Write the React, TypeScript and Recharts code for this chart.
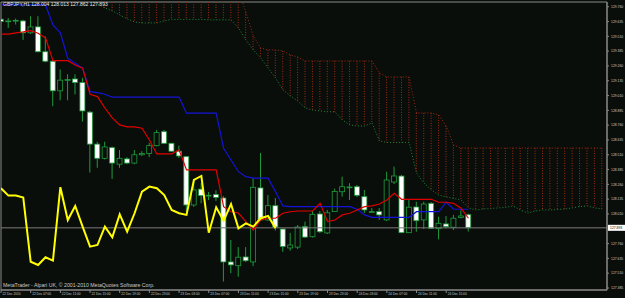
import React from "react";
import {
  ComposedChart,
  Bar,
  Line,
  XAxis,
  YAxis,
  ReferenceLine,
  ReferenceArea,
} from "recharts";

const W = 625;
const H = 298;
const BG = "#0a0e0a";
const FRAME = "#8a8a8a";
const GREEN = "#1f9b3c";
const FONT = "'Liberation Sans', Arial, sans-serif";
const Y_MIN = 127.368;
const Y_MAX = 129.8;

const title = "GBPJPY,H1  128.004 128.013 127.862 127.893";
const lastPrice = 127.893;

// H1 bars, first one is 22 Dec 03:00
const openPrices = [
  129.655, 129.635, 129.64, 129.64, 129.54, 129.59, 129.38, 129.3, 129.05, 129.14,
  129.15, 129.12, 128.87, 128.6, 128.48, 128.57, 128.43, 128.475, 128.44, 128.51,
  128.52, 128.587, 128.705, 128.607, 128.54, 128.494, 128.086, 128.22, 128.165, 128.175,
  128.145, 127.605, 127.573, 127.647, 127.605, 128.23, 127.96, 128.08, 127.883, 127.723,
  127.73, 127.903, 127.818, 128.01, 127.85, 128.03, 128.198, 128.235, 128.24, 128.156,
  128.025, 128.03, 127.96, 128.28, 128.33, 127.852, 128.069, 127.96, 128.1, 127.886,
  127.926, 127.898, 127.98, 128.004,
];
const highPrices = [
  129.665, 129.665, 129.66, 129.65, 129.68, 129.68, 129.51, 129.31, 129.23, 129.19,
  129.19, 129.16, 128.88, 128.62, 128.62, 128.58, 128.55, 128.49, 128.55, 128.54,
  128.61, 128.72, 128.72, 128.61, 128.587, 128.5, 128.3, 128.27, 128.196, 128.21,
  128.16, 127.79, 127.73, 127.73, 128.31, 128.525, 128.17, 128.145, 127.885, 127.85,
  127.917, 127.945, 128.035, 128.035, 128.044, 128.224, 128.325, 128.27, 128.255, 128.213,
  128.06, 128.06, 128.367, 128.41, 128.34, 128.128, 128.114, 128.114, 128.11, 127.987,
  127.993, 128.002, 128.04, 128.013,
];
const lowPrices = [
  129.62, 129.58, 129.61, 129.48, 129.53, 129.375, 129.29, 128.92, 128.97, 128.97,
  129.02, 128.79, 128.36, 128.4, 128.47, 128.306, 128.4, 128.43, 128.43, 128.5,
  128.49, 128.58, 128.6, 128.535, 128.483, 128.03, 128.07, 128.1, 128.128, 128.12,
  127.44, 127.51, 127.48, 127.605, 127.57, 127.95, 127.95, 127.87, 127.69, 127.7,
  127.714, 127.807, 127.81, 127.85, 127.841, 128.027, 128.156, 128.128, 128.153, 128.018,
  128.02, 127.96, 127.95, 128.263, 127.85, 127.85, 127.86, 127.883, 127.883, 127.796,
  127.889, 127.875, 127.974, 127.862,
];
const closePrices = [
  129.635, 129.64, 129.645, 129.54, 129.59, 129.38, 129.3, 129.05, 129.14, 129.145,
  129.12, 128.88, 128.6, 128.48, 128.576, 128.44, 128.48, 128.44, 128.51, 128.52,
  128.587, 128.697, 128.607, 128.54, 128.5, 128.086, 128.213, 128.165, 128.168, 128.15,
  127.605, 127.58, 127.645, 127.615, 128.235, 127.96, 128.08, 127.9, 127.735, 127.748,
  127.9, 127.815, 128.007, 127.86, 128.02, 128.2, 128.24, 128.238, 128.168, 128.044,
  128.03, 128.002, 128.297, 128.331, 127.852, 128.067, 127.953, 128.094, 127.889, 127.931,
  127.903, 127.974, 127.993, 127.893,
];

const tenkan = [
  129.528, 129.528, 129.539, 129.547, 129.558, 129.536, 129.497, 129.305, 129.305, 129.305,
  129.268, 129.241, 129.021, 129.001, 128.905, 128.821, 128.762, 128.745, 128.745, 128.734,
  128.635, 128.517, 128.517, 128.517, 128.551, 128.382, 128.382, 128.382, 128.382, 128.382,
  128.072, 128.029, 128.018, 127.945, 127.875, 127.959, 127.974, 127.974, 128.016, 128.029,
  128.035, 128.035, 128.035, 128.1, 127.945, 127.959, 128.002, 128.016, 128.044, 128.072,
  128.078, 128.094, 128.128, 128.185, 128.134, 128.134, 128.134, 128.134, 128.134, 128.109,
  128.109, 128.1, 128.058, 127.974,
];
const kijun = [
  129.775, 129.775, 129.775, 129.775, 129.775, 129.775, 129.775, 129.606, 129.539, 129.325,
  129.283, 129.241, 129.043, 129.035, 129.021, 128.996, 128.996, 128.996, 128.996, 128.996,
  128.996, 128.996, 128.996, 128.996, 128.996, 128.861, 128.861, 128.861, 128.861, 128.861,
  128.565, 128.466, 128.367, 128.325, 128.312, 128.312, 128.312, 128.198, 128.078, 128.072,
  128.072, 128.072, 128.072, 128.072, 128.072, 128.072, 128.072, 128.072, 128.05, 128.002,
  127.982, 127.982, 127.982, 127.982, 127.982, 127.982, 128.029, 128.029, 128.029, 128.029,
  128.109, 128.05, 128.05, 128.05,
];
const chikou = [
  128.227, 128.165, 128.165, 128.148, 127.607, 127.579, 127.644, 127.616, 128.236, 127.959,
  128.078, 127.903, 127.734, 127.748, 127.903, 127.813, 128.007, 127.861, 128.016, 128.198,
  128.241, 128.227, 128.17, 128.044, 128.016, 128.002, 128.297, 128.331, 127.852, 128.067,
  127.953, 128.094, 127.889, 127.931, 127.903, 127.974, 127.993, 127.889,
];
// cloud runs 26 bars past the last candle
const senkouA = [
  null, null, null, null, null, null, null, null, null, null,
  null, null, 129.817, 129.784, 129.75, 129.725, 129.691, 129.657, 129.632, 129.623,
  129.623, 129.623, 129.64, 129.653, 129.653, 129.653, 129.653, 129.653, 129.649, 129.649,
  129.649, 129.649, 129.581, 129.48, 129.395, 129.328, 129.243, 129.159, 129.057, 129.007,
  128.964, 128.905, 128.888, 128.88, 128.874, 128.872, 128.804, 128.762, 128.753, 128.753,
  128.779, 128.627, 128.614, 128.614, 128.614, 128.614, 128.356, 128.272, 128.213, 128.17,
  128.154, 128.141, 128.128, 128.061, 128.044, 128.052, 128.056, 128.061, 128.065, 128.078,
  128.044, 128.018, 128.035, 128.044, 128.044, 128.048, 128.052, 128.061, 128.073, 128.078,
  128.061, 128.052,
];
const senkouB = [
  null, null, null, null, null, null, null, null, null, null,
  null, null, 129.9, 129.9, 129.9, 129.9, 129.9, 129.9, 129.9, 129.9,
  129.9, 129.9, 129.9, 129.9, 129.9, 129.9, 129.9, 129.9, 129.9, 129.9,
  129.9, 129.9, 129.9, 129.716, 129.513, 129.412, 129.395, 129.395, 129.387, 129.353,
  129.336, 129.302, 129.302, 129.302, 129.302, 129.302, 129.302, 129.302, 129.302, 129.302,
  129.302, 129.201, 129.167, 129.167, 129.167, 129.167, 128.863, 128.863, 128.863, 128.846,
  128.753, 128.593, 128.567, 128.567, 128.567, 128.567, 128.567, 128.567, 128.567, 128.567,
  128.567, 128.567, 128.567, 128.567, 128.567, 128.567, 128.567, 128.567, 128.567, 128.567,
  128.567, 128.567,
];

const priceTicks = [
  129.76, 129.635, 129.51, 129.385, 129.26, 129.135, 129.01, 128.885, 128.76, 128.635,
  128.51, 128.385, 128.26, 128.135, 128.01, 127.76, 127.635, 127.51, 127.385,
];
const timeTicks = [0, 4, 8, 12, 16, 20, 24, 28, 32, 36, 40, 44, 48, 52, 56, 60];
const timeLabels = [
  "22 Dec 2010", "22 Dec 07:00", "22 Dec 11:00", "22 Dec 15:00", "22 Dec 19:00",
  "22 Dec 23:00", "23 Dec 03:00", "23 Dec 07:00", "23 Dec 11:00", "23 Dec 15:00",
  "23 Dec 19:00", "23 Dec 23:00", "24 Dec 03:00", "24 Dec 07:00", "24 Dec 11:00",
  "24 Dec 15:00",
];

const rows = senkouA.map((a, i) => ({
  i,
  open: openPrices[i] ?? null,
  high: highPrices[i] ?? null,
  low: lowPrices[i] ?? null,
  close: closePrices[i] ?? null,
  tenkan: tenkan[i] ?? null,
  kijun: kijun[i] ?? null,
  chikou: chikou[i] ?? null,
  spanA: a,
  spanB: senkouB[i],
}));

// hatch between the two spans, cut at the top of the window
const cloudRange = (d: any) =>
  d.spanA == null || d.spanB == null
    ? null
    : [Math.min(d.spanA, d.spanB), Math.min(Math.max(d.spanA, d.spanB), Y_MAX)];

function Candle(props: any) {
  const { x, y, width, height, payload } = props;
  if (payload.open == null || !isFinite(y) || !isFinite(height)) return <g />;
  const { open, high, low, close } = payload;
  const top = Math.min(y, y + height);
  const h = Math.abs(height);
  const span = high - low || 1;
  const py = (v: number) => top + ((high - v) / span) * h;
  const cx = x + width / 2;
  const b1 = py(Math.max(open, close));
  const b2 = py(Math.min(open, close));
  return (
    <g>
      <line x1={cx} x2={cx} y1={top} y2={top + h} stroke={GREEN} strokeWidth={1} />
      <rect
        x={x}
        y={b1}
        width={width}
        height={Math.max(b2 - b1, 0.8)}
        fill={close < open ? "#ffffff" : BG}
        stroke={GREEN}
        strokeWidth={0.8}
      />
    </g>
  );
}

function Hatch(props: any) {
  const { x, y, width, height, payload } = props;
  if (payload.spanA == null || !isFinite(y) || !isFinite(height)) return <g />;
  const cx = x + width / 2;
  return (
    <line x1={cx} x2={cx} y1={y} y2={y + height} stroke="#a02a16" strokeDasharray="1 1.5" />
  );
}

function PriceTick(props: any) {
  const { x, y, payload } = props;
  return (
    <text x={x} y={y + 1.2} fill="#c8c8c8" fontSize={3.4} fontFamily={FONT}>
      {payload.value.toFixed(3)}
    </text>
  );
}

function TimeTick(props: any) {
  const { x, y, payload } = props;
  const label = timeLabels[timeTicks.indexOf(payload.value)];
  return (
    <text x={x + 1.5} y={y + 2.4} fill="#c8c8c8" fontSize={3.2} fontFamily={FONT}>
      {label}
    </text>
  );
}

function PriceLabel(props: any) {
  const { viewBox } = props;
  const x = viewBox.x + viewBox.width + 1;
  const y = viewBox.y;
  return (
    <g>
      <rect x={x} y={y - 3} width={18} height={6} fill="#ffffff" />
      <text x={x + 2} y={y + 1.3} fill="#000000" fontSize={3.4} fontFamily={FONT}>
        {lastPrice.toFixed(3)}
      </text>
    </g>
  );
}

export default function App() {
  return (
    <div
      style={{ position: "relative", width: W, height: H, background: BG, overflow: "hidden", fontFamily: FONT }}
    >
      <style>{`body{margin:0;background:${BG}}`}</style>
      <ComposedChart
        width={W}
        height={H}
        data={rows}
        margin={{ top: 2, right: 0, bottom: 0, left: 1 }}
        barGap={-5}
      >
        <XAxis
          dataKey="i"
          type="number"
          domain={[0, 81.67]}
          allowDataOverflow
          ticks={timeTicks}
          interval={0}
          height={8}
          tick={<TimeTick />}
          tickSize={3}
          tickMargin={0}
          axisLine={{ stroke: FRAME }}
          tickLine={{ stroke: FRAME }}
        />
        <YAxis
          orientation="right"
          type="number"
          domain={[Y_MIN, Y_MAX]}
          allowDataOverflow
          ticks={priceTicks}
          interval={0}
          width={18}
          tick={<PriceTick />}
          tickSize={2}
          tickMargin={2}
          axisLine={{ stroke: FRAME }}
          tickLine={{ stroke: FRAME }}
        />
        <ReferenceArea x1={0} x2={81.67} y1={Y_MIN} y2={Y_MAX} fill="none" stroke={FRAME} />
        <Bar dataKey={cloudRange} barSize={5} shape={Hatch} isAnimationActive={false} />
        <Line dataKey="spanA" stroke="#1d8a3a" strokeDasharray="1 2" dot={false} activeDot={false} isAnimationActive={false} />
        <Line dataKey="spanB" stroke="#a02814" strokeDasharray="1 2" dot={false} activeDot={false} isAnimationActive={false} />
        <ReferenceLine y={lastPrice} stroke="#7a7a7a" label={<PriceLabel />} />
        <Bar
          dataKey={(d: any) => (d.open == null ? null : [d.low, d.high])}
          barSize={5}
          shape={Candle}
          isAnimationActive={false}
        />
        <Line dataKey="kijun" stroke="#1414d8" strokeWidth={1.2} dot={false} activeDot={false} isAnimationActive={false} />
        <Line dataKey="tenkan" stroke="#e00000" strokeWidth={1.2} dot={false} activeDot={false} isAnimationActive={false} />
        <Line dataKey="chikou" stroke="#ffff00" strokeWidth={2} dot={false} activeDot={false} isAnimationActive={false} />
      </ComposedChart>
      <div style={{ position: "absolute", left: 3, top: 2, fontSize: 5, lineHeight: "5px", color: "#e8e8e8", whiteSpace: "nowrap" }}>
        {title}
      </div>
      <div style={{ position: "absolute", left: 3, top: 283, fontSize: 5.2, lineHeight: "5px", color: "#c8c8c8", whiteSpace: "nowrap" }}>
        MetaTrader - Alpari UK, © 2001-2010 MetaQuotes Software Corp.
      </div>
    </div>
  );
}
